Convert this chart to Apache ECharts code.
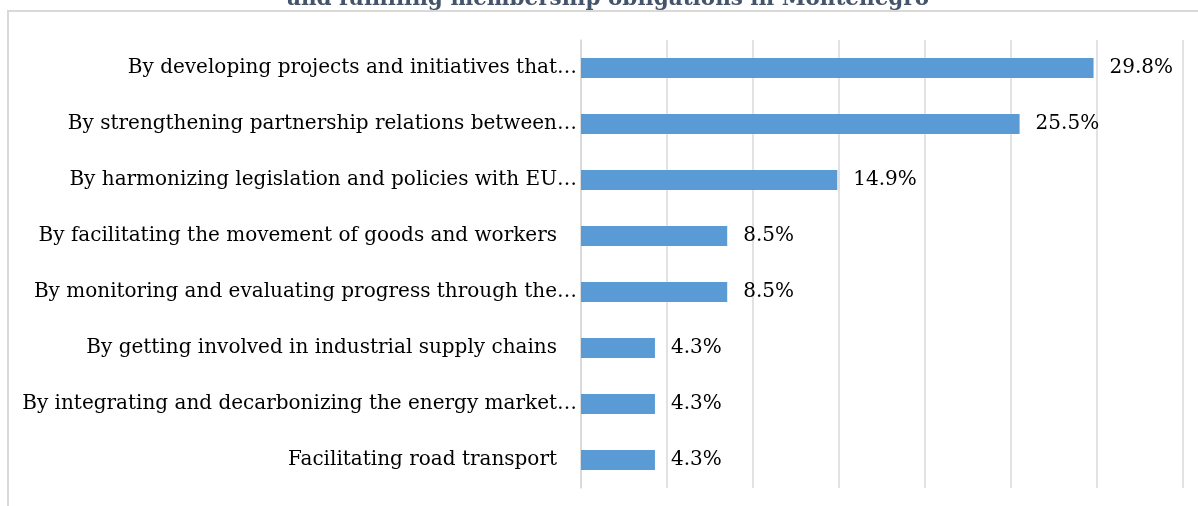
<!DOCTYPE html>
<html>
<head>
<meta charset="utf-8">
<script src="https://cdn.jsdelivr.net/npm/echarts@6/dist/echarts.min.js"></script>
<style>
  html, body { margin: 0; padding: 0; background: #fff; }
  #chart { width: 1198px; height: 506px; }
</style>
</head>
<body>
<div id="chart"></div>
<script>
// Survey answers, top to bottom (long answers are shown shortened)
const categories = [
  'By developing projects and initiatives that\u2026',
  'By strengthening partnership relations between\u2026',
  'By harmonizing legislation and policies with EU\u2026',
  'By facilitating the movement of goods and workers',
  'By monitoring and evaluating progress through the\u2026',
  'By getting involved in industrial supply chains',
  'By integrating and decarbonizing the energy market\u2026',
  'Facilitating road transport'
];
// Share of respondents, percent
const shares = [29.8, 25.5, 14.9, 8.5, 8.5, 4.3, 4.3, 4.3];
// Value axis ticks, percent
const axisMin = 0;
const axisMax = 35;
const axisStep = 5;

const titleLine = 'and fulfilling membership obligations in Montenegro';

const FONT = '"DejaVu Serif", "Liberation Serif", serif';
const GRID = '#d9d9d9';

const chart = echarts.init(document.getElementById('chart'), null, { renderer: 'canvas' });

chart.setOption({
  backgroundColor: '#ffffff',
  animation: false,
  graphic: [
    {
      type: 'rect',
      silent: true,
      shape: { x: 8, y: 11, width: 1400, height: 700 },
      style: { fill: 'none', stroke: GRID, lineWidth: 2 }
    },
    {
      type: 'text',
      silent: true,
      style: {
        x: 608,
        y: 10,
        text: titleLine,
        fill: '#44546a',
        font: 'bold 21.5px ' + FONT,
        textAlign: 'center',
        textVerticalAlign: 'bottom'
      }
    }
  ],
  grid: { left: 581, right: 15, top: 40, bottom: 18, containLabel: false },
  xAxis: {
    type: 'value',
    min: axisMin,
    max: axisMax,
    interval: axisStep,
    axisLabel: { show: false },
    axisLine: { show: false },
    axisTick: { show: false },
    splitLine: { show: true, lineStyle: { color: GRID, width: 1.5 } }
  },
  yAxis: {
    type: 'category',
    inverse: true,
    data: categories,
    axisTick: { show: false },
    axisLine: { show: true, lineStyle: { color: GRID, width: 1.5 } },
    axisLabel: {
      margin: 4,
      fontFamily: FONT,
      fontSize: 20,
      color: '#000',
      formatter: function (v) {
        return v.endsWith('\u2026') ? '{cut|' + v + '}' : '{full|' + v + '}';
      },
      rich: {
        cut: { fontFamily: FONT, fontSize: 20, color: '#000' },
        full: { fontFamily: FONT, fontSize: 20, color: '#000', padding: [0, 20, 0, 0] }
      }
    }
  },
  series: [
    {
      type: 'bar',
      data: shares,
      barWidth: 20,
      itemStyle: { color: '#5b9bd5' },
      label: {
        show: true,
        position: 'right',
        distance: 16,
        fontFamily: FONT,
        fontSize: 20,
        color: '#000',
        formatter: function (p) { return p.value.toFixed(1) + '%'; }
      }
    }
  ]
});
</script>
</body>
</html>
